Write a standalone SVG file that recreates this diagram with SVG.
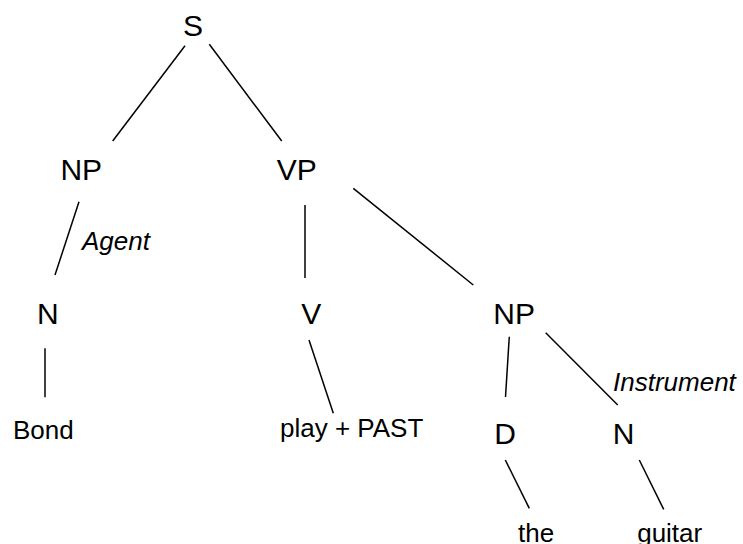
<svg xmlns="http://www.w3.org/2000/svg" width="743" height="544" viewBox="0 0 743 544">
<style>
.n{font-family:"Liberation Sans",Arial,sans-serif;font-size:30px;fill:#000;text-anchor:middle}
.w{font-family:"Liberation Sans",Arial,sans-serif;font-size:26px;fill:#000;text-anchor:middle}
.r{font-family:"Liberation Sans",Arial,sans-serif;font-size:26px;font-style:italic;fill:#000}
.c line{stroke:#000;stroke-width:1.5;fill:none}
</style>
<rect width="743" height="544" fill="#fff"/>
<g class="c" id="connectors">
<line x1="185" y1="45.7" x2="112.7" y2="141"/>
<line x1="209.3" y1="44.3" x2="281.7" y2="141"/>
<line x1="79" y1="201.7" x2="55" y2="275"/>
<line x1="305" y1="205" x2="305" y2="278"/>
<line x1="353.3" y1="188.3" x2="473.3" y2="285"/>
<line x1="45" y1="348.3" x2="45" y2="397.3"/>
<line x1="309" y1="340" x2="333.3" y2="413.3"/>
<line x1="509.3" y1="336.7" x2="505.5" y2="397"/>
<line x1="545.7" y1="332.7" x2="617.7" y2="405"/>
<line x1="505.3" y1="460" x2="529.3" y2="508.3"/>
<line x1="639.3" y1="460" x2="663.7" y2="509.3"/>
</g>
<g id="S"><text class="n" x="193" y="36">S</text></g>
<g id="NP1"><text class="n" x="81.3" y="180">NP</text></g>
<g id="VP"><text class="n" x="296.7" y="180">VP</text></g>
<g id="agent"><text class="r" x="82" y="250">Agent</text></g>
<g id="N1"><text class="n" x="47.8" y="324">N</text></g>
<g id="V"><text class="n" x="311.2" y="324">V</text></g>
<g id="NP2"><text class="n" x="514.2" y="324">NP</text></g>
<g id="instrument"><text class="r" x="613" y="390.7">Instrument</text></g>
<g id="Bond"><text class="w" x="43.3" y="439">Bond</text></g>
<g id="play"><text class="w" x="351.7" y="437">play + PAST</text></g>
<g id="D"><text class="n" x="505" y="444">D</text></g>
<g id="N2"><text class="n" x="623.7" y="444">N</text></g>
<g id="the"><text class="w" x="536.2" y="542">the</text></g>
<g id="guitar"><text class="w" x="669.7" y="542">guitar</text></g>
</svg>
